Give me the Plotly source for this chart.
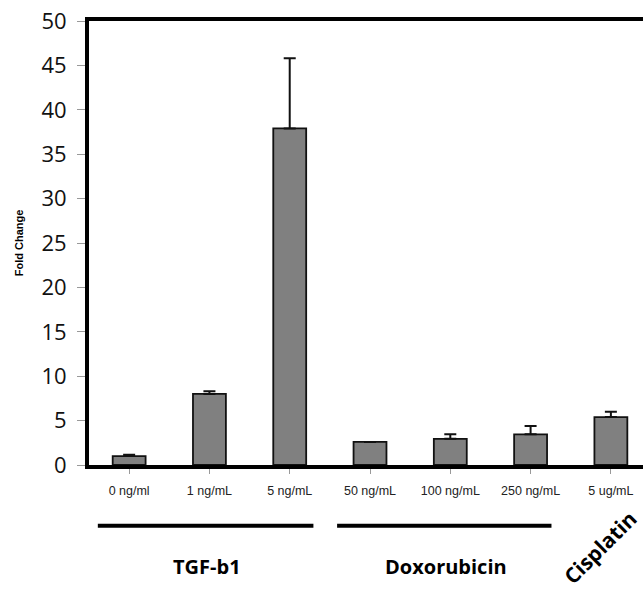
import plotly.graph_objects as go

categories = ["0 ng/ml", "1 ng/mL", "5 ng/mL", "50 ng/mL", "100 ng/mL", "250 ng/mL", "5 ug/mL"]
fold_change = [1.0, 8.0, 37.9, 2.6, 2.95, 3.45, 5.4]
error_plus = [0.15, 0.3, 7.9, 0.0, 0.5, 0.95, 0.6]
y_ticks = [0, 5, 10, 15, 20, 25, 30, 35, 40, 45, 50]

fig = go.Figure()
fig.add_trace(go.Bar(
    x=list(range(len(categories))), y=fold_change,
    width=0.41,
    marker=dict(color="#808080", line=dict(color="#111111", width=1.8)),
    error_y=dict(type="data", symmetric=False, array=error_plus,
                 arrayminus=[0] * len(error_plus),
                 color="#111111", thickness=2, width=6),
))

fig.update_layout(
    width=643, height=591,
    margin=dict(l=89, r=0, t=21, b=126),
    plot_bgcolor="white", paper_bgcolor="white",
    showlegend=False,
    xaxis=dict(
        range=[-0.5, 6.4],
        tickmode="array", tickvals=list(range(len(categories))), ticktext=categories,
        tickfont=dict(family="Arial, Liberation Sans", size=12.5, color="#222222"),
        showline=True, linecolor="black", linewidth=4, mirror=True,
        ticks="outside", tickson="boundaries", ticklen=5, tickcolor="#999999",
        ticklabelstandoff=6,
        showgrid=False, zeroline=False,
    ),
    yaxis=dict(
        range=[0, 50],
        tickmode="array", tickvals=y_ticks,
        tickfont=dict(family="Open Sans", size=22, color="#111111"),
        showline=True, linecolor="black", linewidth=4,
        ticks="outside", ticklen=8, tickcolor="#999999",
        ticklabelstandoff=6,
        showgrid=False, zeroline=False,
        title=dict(text="<b>Fold Change</b>", font=dict(family="Arial, Liberation Sans", size=11, color="black"), standoff=17),
    ),
)

# group lines
for x0, x1 in [(-0.39, 2.295), (2.59, 5.26)]:
    fig.add_shape(type="line", xref="x", yref="paper", x0=x0, x1=x1, y0=-0.137, y1=-0.137,
                  line=dict(color="black", width=4))

fig.add_annotation(x=0.97, y=-0.228, xref="x", yref="paper", text="<b>TGF-b1</b>",
                   xanchor="center", yanchor="middle",
                   showarrow=False, font=dict(family="Open Sans", size=20, color="black"))
fig.add_annotation(x=3.95, y=-0.228, xref="x", yref="paper", text="<b>Doxorubicin</b>",
                   xanchor="center", yanchor="middle",
                   showarrow=False, font=dict(family="Open Sans", size=20, color="black"))
fig.add_annotation(x=5.87, y=-0.185, xref="x", yref="paper", text="<b>Cisplatin</b>",
                   xanchor="center", yanchor="middle",
                   showarrow=False, textangle=-45, font=dict(family="Open Sans", size=21, color="black"))

fig.write_html("out.html")
